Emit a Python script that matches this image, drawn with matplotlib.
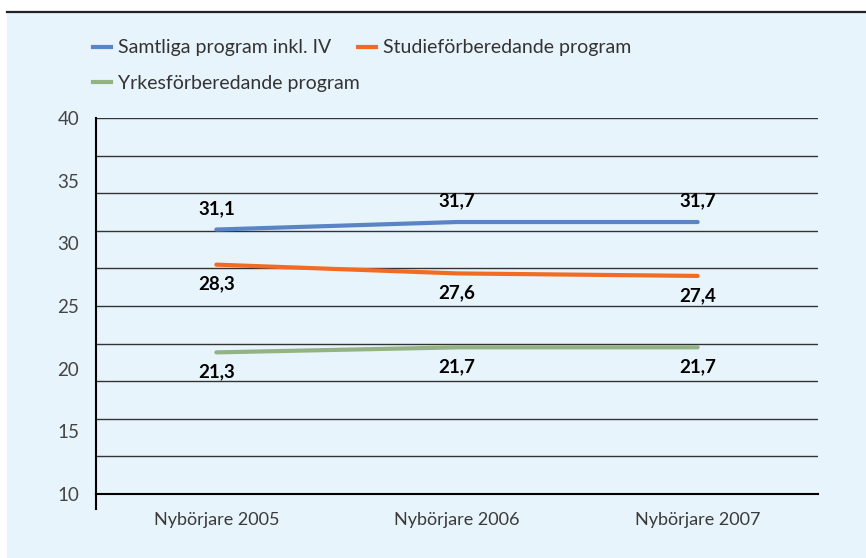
import numpy as np
import matplotlib.pyplot as plt
from matplotlib.patches import Rectangle
from matplotlib.lines import Line2D

plt.rcParams['font.family'] = ['Lato', 'DejaVu Sans']

# Données
kategorier = ["Nybörjare 2005", "Nybörjare 2006", "Nybörjare 2007"]
samtliga = [31.1, 31.7, 31.7]
studie = [28.3, 27.6, 27.4]
yrkes = [21.3, 21.7, 21.7]
serie_namn = ["Samtliga program inkl. IV", "Studieförberedande program",
              "Yrkesförberedande program"]
farger = ["#5b84c4", "#f26b22", "#93b384"]

bg = "#e8f4fc"
fig = plt.figure(figsize=(8.66, 5.58), dpi=100)
fig.patch.set_facecolor("white")

# fond bleu clair + trait du haut
fig.patches.append(Rectangle((7 / 866, 0), 1, 1 - 12 / 558, transform=fig.transFigure,
                             facecolor=bg, edgecolor="none", zorder=-5))
fig.add_artist(Line2D([7 / 866, 1], [1 - 12 / 558, 1 - 12 / 558], transform=fig.transFigure,
                      color="#222222", linewidth=1.6))

ax = fig.add_axes([96 / 866, 1 - 494 / 558, (818 - 96) / 866, (494 - 118) / 558])
ax.set_facecolor("none")

x = np.arange(len(kategorier))
series = [samtliga, studie, yrkes]
for vals, c in zip(series, farger):
    ax.plot(x, vals, color=c, linewidth=3, solid_capstyle="round", zorder=3)

# étiquettes de valeurs (au-dessus pour la série bleue, en dessous pour les autres)
offsets = [15, -14, -14]
for vals, off in zip(series, offsets):
    for xi, v in zip(x, vals):
        ax.annotate(f"{v:.1f}".replace(".", ","), (xi, v), xytext=(0, off),
                    textcoords="offset points", ha="center", va="center",
                    fontsize=13.5, fontweight="bold", color="black", zorder=4)

ax.set_xlim(-0.5, 2.5)
ax.set_ylim(10, 40)
ax.set_xticks(x)
ax.set_xticklabels(kategorier, fontsize=13, color="#3a3a3a")
ax.set_yticks(np.arange(10, 41, 5))
ax.set_yticklabels([str(v) for v in range(10, 41, 5)], fontsize=13.5, color="#444444")
ax.set_yticks(np.arange(10, 41, 3), minor=True)
ax.yaxis.remove_overlapping_locs = False
ax.tick_params(axis="both", which="both", length=0)
ax.tick_params(axis="y", pad=12)
ax.tick_params(axis="x", pad=13)
ax.grid(True, which="minor", axis="y", color="#333333", linewidth=1)
ax.grid(False, which="major")

for s in ["top", "right"]:
    ax.spines[s].set_visible(False)
ax.spines["left"].set_linewidth(1.5)
ax.spines["bottom"].set_linewidth(1.5)
ax.plot([0, 0], [0, -0.04], transform=ax.transAxes, color="black",
        linewidth=1.5, clip_on=False)

# légende : une entrée par position
pos = [(93, 48), (358, 48), (93, 83)]
for nom, c, (px, py) in zip(serie_namn, farger, pos):
    h = Line2D([], [], color=c, linewidth=3)
    leg = fig.legend([h], [nom], loc="center left",
                     bbox_to_anchor=(px / 866, 1 - py / 558),
                     frameon=False, borderpad=0, borderaxespad=0,
                     handlelength=0.9, handletextpad=0.4, fontsize=14)
    for t in leg.get_texts():
        t.set_color("#333333")

fig.savefig("out.png", dpi=100, facecolor=fig.get_facecolor())
